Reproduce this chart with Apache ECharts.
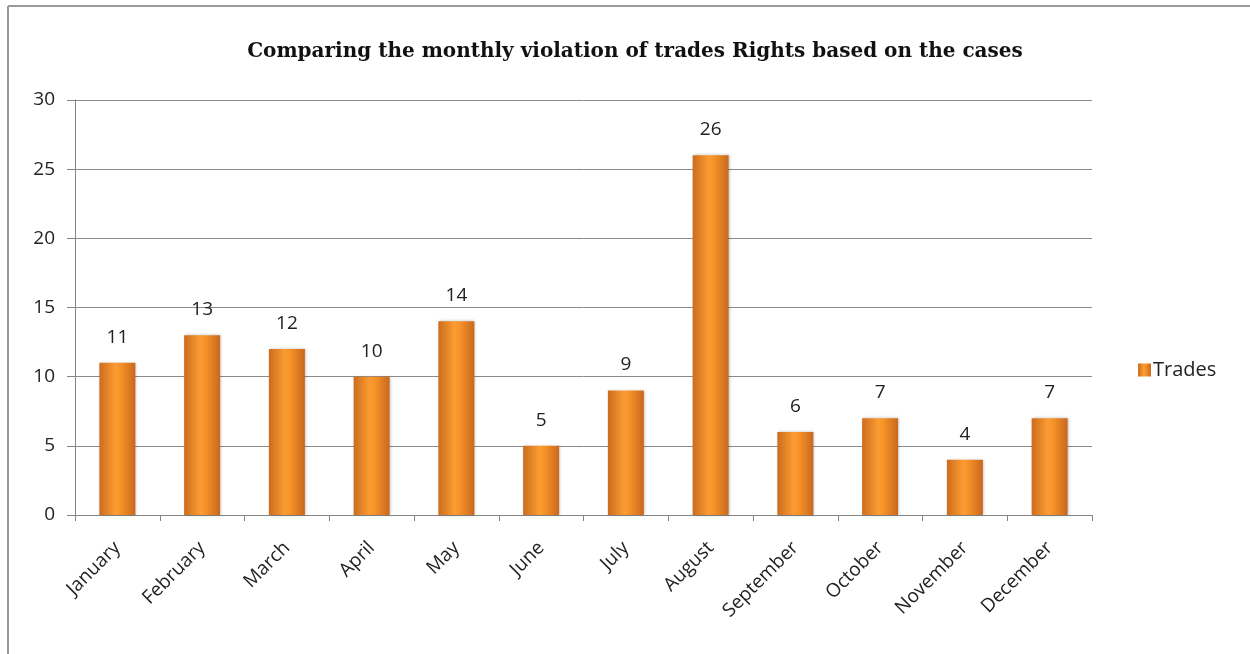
<!DOCTYPE html>
<html>
<head>
<meta charset="utf-8">
<script src="https://cdn.jsdelivr.net/npm/echarts@6/dist/echarts.min.js"></script>
<style>
  body { margin: 0; background: #fff; }
  #chart { width: 1250px; height: 654px; }
</style>
</head>
<body>
<div id="chart"></div>
<script>
/* monthly trades chart */
var months = ['January', 'February', 'March', 'April', 'May', 'June',
  'July', 'August', 'September', 'October', 'November', 'December'];
var trades = [11, 13, 12, 10, 14, 5, 9, 26, 6, 7, 4, 7];
var yTicks = { min: 0, max: 30, interval: 5 };

var barColor = new echarts.graphic.LinearGradient(0, 0, 1, 0, [
  { offset: 0, color: '#cc6c1e' },
  { offset: 0.45, color: '#fb9c32' },
  { offset: 0.6, color: '#f69228' },
  { offset: 1, color: '#c8681e' }
]);

var option = {
  animation: false,
  title: {
    text: 'Comparing the monthly violation of trades Rights based on the cases',
    left: 630,
    textAlign: 'center',
    top: 37,
    textStyle: {
      fontFamily: 'DejaVu Serif',
      fontSize: 20,
      fontWeight: 'bold',
      color: '#111'
    }
  },
  legend: {
    data: ['Trades'],
    left: 1133,
    top: 355,
    icon: 'rect',
    itemWidth: 13,
    itemHeight: 13,
    itemGap: 4,
    textStyle: { fontFamily: 'Open Sans', fontSize: 20, color: '#222', padding: [0, 0, 0, -3] }
  },
  grid: { left: 75, right: 158, top: 100, bottom: 139 },
  xAxis: {
    type: 'category',
    data: months,
    axisLine: { lineStyle: { color: '#858585', width: 1 } },
    axisTick: { show: true, length: 6, lineStyle: { color: '#858585' } },
    axisLabel: {
      rotate: 45,
      interval: 0,
      margin: 30,
      fontFamily: 'Open Sans',
      fontSize: 19,
      color: '#222'
    }
  },
  yAxis: {
    type: 'value',
    min: yTicks.min,
    max: yTicks.max,
    interval: yTicks.interval,
    axisLine: { show: true, lineStyle: { color: '#858585' } },
    axisTick: { show: true, length: 8, lineStyle: { color: '#858585' } },
    splitLine: { lineStyle: { color: '#8a8a8a', width: 1 } },
    axisLabel: {
      margin: 20,
      fontFamily: 'Open Sans',
      fontSize: 19,
      color: '#222'
    }
  },
  series: [{
    name: 'Trades',
    type: 'bar',
    data: trades,
    barWidth: 36,
    itemStyle: {
      color: barColor,
      shadowColor: 'rgba(0,0,0,0.25)',
      shadowBlur: 3,
      shadowOffsetX: 1
    },
    label: {
      show: true,
      position: 'top',
      distance: 16,
      fontFamily: 'Open Sans',
      fontSize: 19,
      color: '#222'
    }
  }],
  graphic: [
    { type: 'line', shape: { x1: 8, y1: 6, x2: 8, y2: 654 }, style: { stroke: '#9a9a9a', lineWidth: 2 } },
    { type: 'line', shape: { x1: 8, y1: 6, x2: 1250, y2: 6 }, style: { stroke: '#9a9a9a', lineWidth: 2 } }
  ]
};

var chart = echarts.init(document.getElementById('chart'));
chart.setOption(option);
</script>
</body>
</html>
